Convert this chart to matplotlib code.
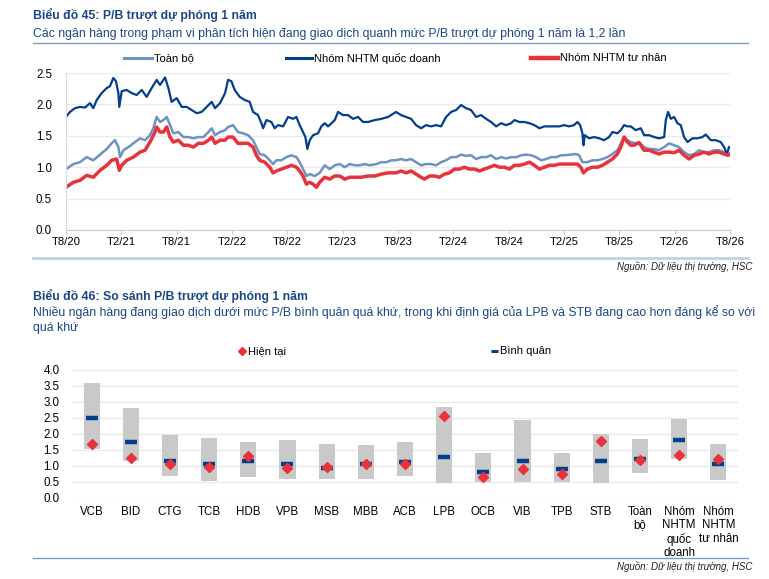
import numpy as np
import matplotlib
matplotlib.use('Agg')
import matplotlib.pyplot as plt

plt.rcParams['font.family'] = ['Liberation Sans', 'DejaVu Sans']

# Chart 45: P/B trailing forward 1Y, months since T8/20
tb_t = [0.00, 0.80, 1.52, 2.24, 2.96, 3.69, 4.41, 4.95, 5.31, 5.68, 5.86, 6.22, 6.76, 7.30, 8.03, 8.57,
        9.11, 9.47, 9.83, 10.20, 10.56, 10.92, 11.28, 11.64, 12.18, 12.73, 13.27, 13.81, 14.35, 14.90,
        15.44, 15.80, 16.16, 16.70, 17.25, 17.57, 18.11, 18.65, 19.20, 19.74, 20.28, 20.64, 21.00,
        21.55, 22.09, 22.45, 22.81, 23.35, 23.90, 24.44, 24.98, 25.34, 25.70, 26.07, 26.43, 26.97,
        27.51, 28.05, 28.60, 29.14, 29.68, 30.22, 30.77, 31.31, 31.85, 32.39, 32.93, 33.66, 34.20,
        34.74, 35.29, 35.79, 36.33, 36.87, 37.42, 37.96, 38.50, 39.04, 39.59, 40.13, 40.67, 41.21,
        41.76, 42.30, 42.84, 43.38, 43.92, 44.47, 45.01, 45.55, 46.09, 46.64, 47.18, 47.72, 48.26,
        48.81, 49.35, 49.89, 50.43, 50.97, 51.52, 52.06, 52.60, 53.14, 53.69, 54.01, 54.73, 55.28,
        55.64, 56.00, 56.54, 57.08, 57.63, 58.17, 58.71, 59.25, 59.79, 60.16, 60.52, 60.88, 61.24,
        61.78, 62.14, 62.69, 63.23, 63.77, 64.31, 64.86, 65.40, 65.94, 66.48, 67.02, 67.57, 68.11,
        68.65, 69.19, 69.74, 70.28, 70.82, 71.36, 71.72, 71.98]
tb_v = [0.97, 1.05, 1.08, 1.16, 1.11, 1.20, 1.29, 1.38, 1.43, 1.32, 1.16, 1.27, 1.32, 1.38, 1.46, 1.43,
        1.51, 1.62, 1.80, 1.72, 1.75, 1.80, 1.67, 1.54, 1.56, 1.48, 1.48, 1.46, 1.48, 1.48,
        1.56, 1.62, 1.51, 1.56, 1.59, 1.64, 1.67, 1.56, 1.54, 1.51, 1.43, 1.32, 1.21,
        1.19, 1.11, 1.05, 1.11, 1.11, 1.16, 1.19, 1.16, 1.08, 0.97, 0.86, 0.89, 0.86,
        0.91, 1.03, 0.97, 1.03, 1.05, 1.00, 1.05, 1.03, 1.03, 1.05, 1.03, 1.05, 1.08,
        1.08, 1.11, 1.11, 1.13, 1.11, 1.13, 1.08, 1.03, 1.05, 1.05, 1.03, 1.08, 1.11,
        1.16, 1.16, 1.20, 1.18, 1.19, 1.13, 1.16, 1.16, 1.19, 1.13, 1.16, 1.14, 1.16,
        1.16, 1.19, 1.20, 1.19, 1.16, 1.11, 1.13, 1.16, 1.16, 1.19, 1.19, 1.20, 1.21,
        1.19, 1.08, 1.08, 1.11, 1.11, 1.13, 1.16, 1.21, 1.27, 1.38, 1.48, 1.43, 1.40,
        1.38, 1.40, 1.32, 1.29, 1.29, 1.27, 1.32, 1.38, 1.35, 1.32, 1.24, 1.19, 1.21,
        1.27, 1.24, 1.24, 1.27, 1.27, 1.24, 1.21, 1.22]

qd_t = [0.00, 0.43, 0.98, 1.52, 2.06, 2.60, 2.96, 3.33, 3.87, 4.41, 4.77, 5.13, 5.42, 5.68, 5.78, 6.04,
        6.58, 7.12, 7.66, 8.21, 8.75, 9.29, 9.83, 10.20, 10.74, 11.10, 11.46, 12.00, 12.55, 13.09,
        13.63, 14.17, 14.71, 15.26, 15.80, 16.16, 16.70, 17.25, 17.57, 17.93, 18.29, 18.84, 19.38,
        19.92, 20.28, 20.82, 21.19, 21.37, 21.73, 22.27, 22.63, 22.99, 23.54, 24.08, 24.62, 24.98,
        25.34, 25.70, 25.96, 26.17, 26.43, 26.79, 27.33, 27.69, 28.05, 28.42, 28.78, 29.14, 29.50,
        30.04, 30.58, 31.13, 31.67, 32.21, 32.75, 33.48, 34.20, 34.92, 35.79, 36.33, 36.87, 37.42,
        37.96, 38.50, 39.04, 39.59, 40.13, 40.67, 41.21, 41.76, 42.30, 42.84, 43.38, 43.92, 44.47,
        45.01, 45.55, 46.09, 46.64, 47.18, 47.72, 48.26, 48.62, 49.17, 49.71, 50.25, 50.79, 51.34,
        51.88, 52.42, 52.96, 53.51, 54.01, 54.55, 55.09, 55.46, 55.75, 56.00, 56.11, 56.25, 56.72,
        57.26, 57.81, 58.35, 58.89, 59.25, 59.79, 60.16, 60.52, 60.88, 61.24, 61.78, 62.33, 62.69,
        63.23, 63.77, 64.31, 64.86, 65.04, 65.29, 65.58, 65.94, 66.30, 66.66, 67.02, 67.39, 67.93,
        68.47, 69.01, 69.37, 69.92, 70.46, 71.00, 71.36, 71.65, 71.90]
qd_v = [1.80, 1.88, 1.94, 1.96, 1.95, 2.02, 1.94, 2.07, 2.18, 2.26, 2.29, 2.42, 2.37, 2.18, 1.96, 2.21,
        2.23, 2.18, 2.15, 2.23, 2.12, 2.26, 2.39, 2.31, 2.43, 2.26, 2.04, 2.10, 1.96, 1.96,
        1.91, 1.86, 1.88, 1.96, 2.04, 1.94, 2.02, 2.18, 2.39, 2.37, 2.23, 2.12, 2.07,
        2.04, 1.88, 1.83, 1.70, 1.62, 1.75, 1.72, 1.62, 1.67, 1.65, 1.80, 1.77, 1.80,
        1.67, 1.56, 1.48, 1.29, 1.43, 1.51, 1.54, 1.65, 1.70, 1.65, 1.70, 1.75, 1.88,
        1.83, 1.83, 1.77, 1.80, 1.72, 1.72, 1.75, 1.77, 1.80, 1.88, 1.83, 1.80, 1.77,
        1.67, 1.62, 1.67, 1.65, 1.67, 1.65, 1.80, 1.88, 1.91, 1.99, 1.94, 1.91, 1.80,
        1.83, 1.77, 1.72, 1.65, 1.70, 1.67, 1.70, 1.75, 1.72, 1.72, 1.70, 1.67, 1.62,
        1.65, 1.65, 1.65, 1.65, 1.67, 1.65, 1.67, 1.72, 1.67, 1.54, 1.35, 1.51, 1.46,
        1.48, 1.46, 1.43, 1.48, 1.56, 1.54, 1.59, 1.67, 1.65, 1.65, 1.59, 1.62, 1.51,
        1.51, 1.48, 1.46, 1.48, 1.75, 1.88, 1.77, 1.80, 1.70, 1.67, 1.48, 1.40, 1.46,
        1.46, 1.48, 1.52, 1.43, 1.43, 1.40, 1.32, 1.21, 1.32]

tn_t = [0.00, 0.80, 1.52, 2.24, 2.96, 3.69, 4.41, 4.95, 5.50, 5.78, 6.04, 6.58, 7.30, 8.03, 8.57, 9.11,
        9.65, 9.83, 10.20, 10.56, 10.92, 11.28, 11.64, 12.18, 12.73, 13.27, 13.81, 14.35, 14.90,
        15.44, 15.80, 16.16, 16.70, 17.25, 17.57, 18.11, 18.65, 19.20, 19.74, 20.28, 20.64, 21.00,
        21.55, 22.09, 22.45, 22.81, 23.35, 23.90, 24.44, 24.98, 25.34, 25.70, 26.07, 26.43, 26.79,
        27.15, 27.51, 28.05, 28.60, 29.14, 29.68, 30.22, 30.77, 31.31, 32.03, 32.75, 33.48, 34.20,
        34.92, 35.79, 36.33, 36.87, 37.42, 37.96, 38.50, 38.86, 39.41, 39.95, 40.49, 41.03, 41.57,
        42.12, 42.66, 43.20, 43.74, 44.29, 44.83, 45.37, 45.91, 46.46, 47.00, 47.54, 48.08, 48.62,
        49.17, 49.71, 50.25, 50.79, 51.34, 51.88, 52.42, 52.96, 53.51, 54.01, 54.73, 55.46, 55.82,
        56.11, 56.54, 57.08, 57.63, 58.17, 58.71, 59.25, 59.79, 60.16, 60.52, 60.88, 61.24, 61.60,
        62.14, 62.69, 63.23, 63.77, 64.31, 64.86, 65.40, 65.94, 66.48, 67.02, 67.57, 68.11, 68.65,
        69.19, 69.74, 70.28, 70.82, 71.36, 71.72, 71.98]
tn_v = [0.68, 0.76, 0.79, 0.87, 0.84, 0.95, 1.03, 1.11, 1.13, 0.95, 1.03, 1.11, 1.16, 1.24, 1.27, 1.40,
        1.56, 1.64, 1.56, 1.56, 1.64, 1.48, 1.40, 1.43, 1.35, 1.35, 1.32, 1.38, 1.38,
        1.43, 1.48, 1.38, 1.43, 1.43, 1.48, 1.48, 1.38, 1.38, 1.38, 1.32, 1.19, 1.11,
        1.08, 1.00, 0.91, 0.94, 0.97, 1.00, 1.03, 1.00, 0.94, 0.86, 0.73, 0.76, 0.73,
        0.68, 0.76, 0.84, 0.81, 0.86, 0.86, 0.81, 0.84, 0.84, 0.84, 0.86, 0.86, 0.89,
        0.91, 0.91, 0.94, 0.91, 0.94, 0.89, 0.84, 0.81, 0.86, 0.86, 0.84, 0.89, 0.91,
        0.97, 0.97, 1.00, 0.97, 0.97, 0.94, 0.97, 1.00, 1.03, 1.00, 1.00, 0.97, 1.03,
        1.03, 1.05, 1.08, 1.03, 0.97, 1.00, 1.03, 1.03, 1.05, 1.05, 1.05, 1.05, 1.00,
        0.91, 0.97, 1.00, 1.00, 1.03, 1.08, 1.13, 1.21, 1.32, 1.48, 1.40, 1.35, 1.35,
        1.39, 1.27, 1.27, 1.24, 1.21, 1.24, 1.24, 1.23, 1.27, 1.19, 1.13, 1.19, 1.21,
        1.24, 1.21, 1.24, 1.24, 1.21, 1.19, 1.20]

x_ticks = [0, 6, 12, 18, 24, 30, 36, 42, 48, 54, 60, 66, 72]
x_labels = ['T8/20', 'T2/21', 'T8/21', 'T2/22', 'T8/22', 'T2/23', 'T8/23',
            'T2/24', 'T8/24', 'T2/25', 'T8/25', 'T2/26', 'T8/26']

# Chart 46: P/B range, average, current
banks = ['VCB', 'BID', 'CTG', 'TCB', 'HDB', 'VPB', 'MSB', 'MBB', 'ACB', 'LPB', 'OCB', 'VIB',
         'TPB', 'STB', 'Toàn\nbộ', 'Nhóm\nNHTM\nquốc\ndoanh', 'Nhóm\nNHTM\ntư nhân']
pb_max = [3.58, 2.82, 1.97, 1.87, 1.75, 1.81, 1.68, 1.65, 1.75, 2.84, 1.40, 2.44, 1.40, 2.00, 1.84, 2.47, 1.68]
pb_min = [1.53, 1.16, 0.69, 0.53, 0.66, 0.60, 0.60, 0.60, 0.69, 0.45, 0.50, 0.50, 0.50, 0.45, 0.78, 1.22, 0.55]
pb_avg = [2.49, 1.75, 1.15, 1.04, 1.16, 1.04, 0.92, 1.04, 1.12, 1.29, 0.80, 1.16, 0.89, 1.16, 1.22, 1.81, 1.06]
pb_now = [1.67, 1.25, 1.05, 0.97, 1.31, 0.94, 0.97, 1.07, 1.07, 2.56, 0.66, 0.90, 0.75, 1.78, 1.18, 1.34, 1.20]

W, H = 769, 579
C_TITLE = '#1C4587'
C_LIGHT = '#6E92C2'
C_DARK = '#033E8C'
C_RED = '#E8323C'
C_GRID = '#EAEAEA'
TFS = 8.8

fig = plt.figure(figsize=(W / 100, H / 100), dpi=100)
fig.patch.set_facecolor('white')

def fx(px): return px / W
def fy(py): return 1 - py / H

def hline(y, x0, x1, color, lw):
    fig.add_artist(plt.Line2D([fx(x0), fx(x1)], [fy(y), fy(y)], color=color, lw=lw))

# ---- header 1
fig.text(fx(33), fy(15), 'Biểu đồ 45: P/B trượt dự phóng 1 năm', fontsize=TFS,
         fontweight='bold', color=C_TITLE, va='center')
fig.text(fx(33), fy(34), 'Các ngân hàng trong phạm vi phân tích hiện đang giao dịch quanh mức P/B trượt dự phóng 1 năm là 1,2 lần',
         fontsize=TFS, color=C_TITLE, va='center')
hline(42.5, 33, 748, '#7A9CC8', 1.0)

# legend 1
leg1 = [(124, 152, C_LIGHT, 2.2, 'Toàn bộ'),
        (286, 312, C_DARK, 2.2, 'Nhóm NHTM quốc doanh'),
        (531, 558, C_RED, 3.2, 'Nhóm NHTM tư nhân')]
for x0, x1, c, lw, lab in leg1:
    hline(58, x0, x1, c, lw)
    fig.text(fx(x1 + 2), fy(58), lab, fontsize=8, va='center', color='black')

# ---- chart 1
ax1 = fig.add_axes([fx(66), fy(230), (730 - 66) / W, (230 - 73) / H])
ax1.plot(tb_t, tb_v, color=C_LIGHT, lw=1.8)
ax1.plot(qd_t, qd_v, color=C_DARK, lw=1.6)
ax1.plot(tn_t, tn_v, color=C_RED, lw=2.5)
ax1.set_xlim(0, 72)
ax1.set_ylim(0, 2.5)
ax1.set_yticks([0, 0.5, 1.0, 1.5, 2.0, 2.5])
ax1.set_yticklabels(['0.0', '0.5', '1.0', '1.5', '2.0', '2.5'])
ax1.set_xticks(x_ticks)
ax1.set_xticklabels(x_labels)
ax1.grid(axis='y', color=C_GRID, lw=0.9)
ax1.set_axisbelow(True)
for s in ['top', 'right']:
    ax1.spines[s].set_visible(False)
ax1.spines['left'].set_color('#DADADA')
ax1.spines['bottom'].set_color('#C8CDD6')
ax1.tick_params(axis='y', length=0, pad=10, labelsize=8.3)
ax1.tick_params(axis='x', length=3, color='#C8CDD6', pad=2, labelsize=8.1)

hline(258, 33, 748, '#C3D0E3', 2.0)
fig.text(fx(752), fy(266), 'Nguồn: Dữ liệu thị trường, HSC', fontsize=7, style='italic',
         ha='right', va='center', color='#222222')

# ---- header 2
fig.text(fx(33), fy(296), 'Biểu đồ 46: So sánh P/B trượt dự phóng 1 năm', fontsize=TFS,
         fontweight='bold', color=C_TITLE, va='center')
fig.text(fx(33), fy(312.5), 'Nhiều ngân hàng đang giao dịch dưới mức P/B bình quân quá khứ, trong khi định giá của LPB và STB đang cao hơn đáng kể so với',
         fontsize=TFS, color=C_TITLE, va='center')
fig.text(fx(33), fy(328), 'quá khứ', fontsize=TFS, color=C_TITLE, va='center')

# legend 2
fig.add_artist(plt.Line2D([fx(242)], [fy(351)], marker='D', ms=4.5, color=C_RED, ls='none'))
fig.text(fx(248), fy(351), 'Hiện tại', fontsize=8, va='center')
fig.add_artist(plt.Line2D([fx(490.5), fx(498)], [fy(351), fy(351)], color=C_DARK, lw=2.2, solid_capstyle='butt'))
fig.text(fx(500), fy(351), 'Bình quân', fontsize=8, va='center')

# ---- chart 2
ax2 = fig.add_axes([fx(72), fy(497.7), (738 - 72) / W, (497.7 - 370) / H])
pos = np.arange(len(banks))
ax2.bar(pos, np.array(pb_max) - np.array(pb_min), bottom=pb_min, width=0.41,
        color='#C9C9C9', zorder=2)
ax2.plot(pos, pb_avg, ls='none', marker='_', ms=9, mew=3.2, color=C_DARK, zorder=3)
ax2.plot(pos, pb_now, ls='none', marker='D', ms=5, color=C_RED, zorder=4)
ax2.set_xlim(-0.5, len(banks) - 0.5)
ax2.set_ylim(0, 4.0)
ax2.set_yticks(np.arange(0, 4.01, 0.5))
ax2.set_yticklabels(['%.1f' % v for v in np.arange(0, 4.01, 0.5)])
ax2.set_xticks(pos)
ax2.set_xticklabels(banks, linespacing=1.15, va='top')
ax2.grid(axis='y', color=C_GRID, lw=1.0, zorder=0)
ax2.set_axisbelow(True)
for s in ax2.spines.values():
    s.set_visible(False)
ax2.tick_params(axis='y', length=0, pad=9, labelsize=8.3)
ax2.tick_params(axis='x', length=0, pad=6, labelsize=8.3)

hline(557.5, 33, 748, '#7A9CC8', 1.0)
fig.text(fx(752), fy(566), 'Nguồn: Dữ liệu thị trường, HSC', fontsize=7, style='italic',
         ha='right', va='center', color='#222222')

fig.savefig('out.png', dpi=100, facecolor='white')
